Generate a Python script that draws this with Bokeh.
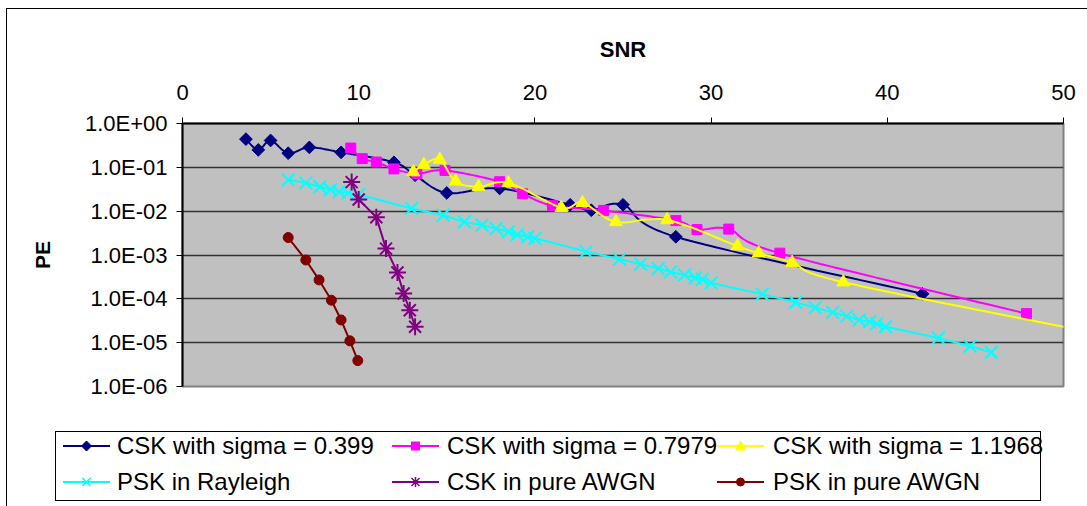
import numpy as np
from bokeh.plotting import figure
from bokeh.layouts import column
from bokeh.models import (FixedTicker, CustomJSTickFormatter, Range1d, Div)
from bokeh.embed import file_html
from bokeh.resources import INLINE

# ---- data ----
snr_s1 = [3.6, 4.3, 5.0, 6.0, 7.2, 9.0, 12.0, 13.2, 15.0, 18.0, 22.0, 23.2, 25.0, 28.0, 42.0]
pe_s1 = [0.44, 0.25, 0.41, 0.21, 0.285, 0.22, 0.13, 0.066, 0.026, 0.033, 0.014, 0.0105, 0.014, 0.0026, 1.3e-4]

snr_s2 = [9.55, 10.2, 11.0, 12.0, 13.3, 14.9, 18.0, 19.3, 21.0, 23.9, 28.0, 29.2, 31.0, 33.9, 47.9]
pe_s2 = [0.275, 0.158, 0.132, 0.092, 0.072, 0.085, 0.047, 0.025, 0.0134, 0.0104, 0.0061, 0.0038, 0.0039, 0.0011, 4.6e-5]

snr_s3 = [13.1, 13.7, 14.6, 15.5, 16.8, 18.5, 21.5, 22.7, 24.6, 27.5, 31.5, 32.7, 34.6, 37.5, 52.0]
pe_s3 = [0.078, 0.115, 0.15, 0.048, 0.036, 0.044, 0.012, 0.0155, 0.0057, 0.0063, 0.0016, 0.0011, 6.7e-4, 2.4e-4, 1.6e-5]

snr_ray = [6.0, 7.0, 7.8, 8.4, 8.9, 9.4, 10.0,
           13.0, 14.8, 16.0, 17.0, 17.8, 18.5, 19.0, 19.6, 20.0,
           22.9, 24.8, 26.0, 27.0, 27.7, 28.5, 29.1, 29.5, 30.0,
           32.9, 34.8, 35.9, 36.9, 37.7, 38.4, 39.0, 39.4, 39.9,
           42.9, 44.7, 45.9]
pe_ray = [0.052, 0.044, 0.036, 0.031, 0.028, 0.026, 0.024,
          0.0115, 0.0081, 0.0057, 0.0048, 0.0040, 0.0034, 0.0029, 0.0026, 0.0024,
          0.0012, 8.0e-4, 6.2e-4, 4.9e-4, 4.1e-4, 3.5e-4, 3.0e-4, 2.8e-4, 2.3e-4,
          1.28e-4, 8.3e-5, 6.3e-5, 4.9e-5, 4.0e-5, 3.3e-5, 3.0e-5, 2.7e-5, 2.3e-5,
          1.28e-5, 8.3e-6, 6.0e-6]

snr_csk_awgn = [9.6, 10.0, 11.0, 11.55, 12.2, 12.55, 12.9, 13.2]
pe_csk_awgn = [0.046, 0.0185, 0.0073, 0.0014, 4.0e-4, 1.32e-4, 5.5e-5, 2.3e-5]

snr_psk_awgn = [6.0, 7.0, 7.75, 8.45, 9.0, 9.5, 9.95]
pe_psk_awgn = [0.0025, 7.7e-4, 2.7e-4, 9.3e-5, 3.3e-5, 1.1e-5, 3.9e-6]

x_ticks = [0, 10, 20, 30, 40, 50]
y_ticks = [1e-6, 1e-5, 1e-4, 1e-3, 1e-2, 1e-1, 1e0]

labels = ["CSK with sigma = 0.399", "CSK with sigma = 0.7979", "CSK with sigma = 1.1968",
          "PSK in Rayleigh", "CSK in pure AWGN", "PSK in pure AWGN"]

FONT = "Liberation Sans"

# series styles: (color, marker, size, angle, filled)
styles = [
    ("#000080", "square", 9, np.pi / 4, True),
    ("#FF00FF", "square", 10, 0.0, True),
    ("#FFFF00", "triangle", 13, 0.0, True),
    ("#00FFFF", "x", 18, 0.0, False),
    ("#800080", "asterisk", 17, 0.0, False),
    ("#800000", "circle", 10, 0.0, True),
]


def smooth(xs, ys, n=20):
    """Excel-like smoothed line (cubic Bezier, Catmull-Rom control points) in (x, log y)."""
    x = np.asarray(xs, float)
    y = np.log10(np.asarray(ys, float))
    P = np.column_stack([x, y])
    Pp = np.vstack([P[0], P, P[-1]])
    out = []
    t = np.linspace(0, 1, n, endpoint=False)[:, None]
    for i in range(len(P) - 1):
        p0, p1, p2, p3 = Pp[i], Pp[i + 1], Pp[i + 2], Pp[i + 3]
        c1 = p1 + (p2 - p0) / 6.0
        c2 = p2 - (p3 - p1) / 6.0
        b = ((1 - t) ** 3) * p1 + 3 * ((1 - t) ** 2) * t * c1 + 3 * (1 - t) * t ** 2 * c2 + t ** 3 * p2
        out.append(b)
    out.append(P[-1][None, :])
    out = np.vstack(out)
    return out[:, 0], 10 ** out[:, 1]


def add_series(fig, xs, ys, style, smooth_line):
    color, marker, size, angle, filled = style
    if smooth_line:
        lx, ly = smooth(xs, ys)
    else:
        lx, ly = xs, ys
    fig.line(lx, ly, line_color=color, line_width=2)
    kw = dict(marker=marker, size=size, angle=angle, line_color=color, line_width=2 if not filled else 1)
    if filled:
        kw["fill_color"] = color
    fig.scatter(xs, ys, **kw)


p = figure(width=1080, height=422,
           x_range=Range1d(0, 50), y_range=Range1d(1e-6, 1.0),
           y_axis_type="log", x_axis_location="above",
           output_backend="svg", toolbar_location=None,
           min_border_left=175, min_border_right=24, min_border_top=114, min_border_bottom=45,
           background_fill_color="#C0C0C0", border_fill_color="white",
           outline_line_color="#808080", outline_line_width=2)

# axes
xa = p.xaxis[0]
xa.ticker = FixedTicker(ticks=x_ticks)
xa.major_tick_out = 6
xa.major_tick_in = 0
xa.minor_tick_out = 0
xa.minor_tick_in = 0
xa.axis_line_color = "black"
xa.axis_line_width = 2
xa.major_tick_line_color = "black"
xa.major_label_text_font = FONT
xa.major_label_text_font_size = "22px"
xa.major_label_text_color = "black"
xa.major_label_standoff = 18
xa.axis_label = "SNR"
xa.axis_label_text_font = FONT
xa.axis_label_text_font_style = "bold"
xa.axis_label_text_font_size = "22px"
xa.axis_label_text_color = "black"
xa.axis_label_standoff = 20

ya = p.yaxis[0]
ya.ticker = FixedTicker(ticks=y_ticks)
ya.formatter = CustomJSTickFormatter(code="""
const e = Math.round(Math.log10(tick));
const s = e < 0 ? '-' : '+';
const a = Math.abs(e);
return '1.0E' + s + (a < 10 ? '0' + a : '' + a);
""")
ya.major_tick_out = 6
ya.major_tick_in = 0
ya.minor_tick_out = 0
ya.minor_tick_in = 0
ya.axis_line_color = "black"
ya.axis_line_width = 2
ya.major_tick_line_color = "black"
ya.major_label_text_font = FONT
ya.major_label_text_font_size = "22px"
ya.major_label_text_color = "black"
ya.major_label_standoff = 9
ya.axis_label = "PE"
ya.axis_label_text_font = FONT
ya.axis_label_text_font_style = "bold"
ya.axis_label_text_font_size = "21px"
ya.axis_label_text_color = "black"
ya.axis_label_standoff = 28

p.xgrid.visible = False
p.ygrid.ticker = FixedTicker(ticks=[1e-5, 1e-4, 1e-3, 1e-2, 1e-1])
p.ygrid.grid_line_color = "#333333"
p.ygrid.grid_line_width = 1.5

series = [
    (snr_s1, pe_s1, True),
    (snr_s2, pe_s2, True),
    (snr_s3, pe_s3, True),
    (snr_ray, pe_ray, False),
    (snr_csk_awgn, pe_csk_awgn, False),
    (snr_psk_awgn, pe_psk_awgn, False),
]
for (xs, ys, sm), st in zip(series, styles):
    add_series(p, xs, ys, st, sm)


# ---- legend strip below the plot (HTML/SVG, so it is not clipped to the plot area) ----
def legend_marker_svg(marker, color, cx, cy):
    if marker == "square" and color == "#000080":  # diamond
        return (f'<polygon points="{cx},{cy-5} {cx+5},{cy} {cx},{cy+5} {cx-5},{cy}" '
                f'fill="{color}" stroke="{color}"/>')
    if marker == "square":
        return f'<rect x="{cx-4}" y="{cy-4}" width="8" height="8" fill="{color}" stroke="{color}"/>'
    if marker == "triangle":
        return (f'<polygon points="{cx},{cy-5} {cx+5},{cy+4} {cx-5},{cy+4}" '
                f'fill="{color}" stroke="{color}"/>')
    if marker == "x":
        return (f'<path d="M{cx-4},{cy-4}L{cx+4},{cy+4}M{cx-4},{cy+4}L{cx+4},{cy-4}" '
                f'stroke="{color}" stroke-width="1.5"/>')
    if marker == "asterisk":
        return (f'<path d="M{cx},{cy-5}L{cx},{cy+5}M{cx-4},{cy-4}L{cx+4},{cy+4}'
                f'M{cx-4},{cy+4}L{cx+4},{cy-4}" stroke="{color}" stroke-width="1.5"/>')
    return f'<circle cx="{cx}" cy="{cy}" r="4" fill="{color}" stroke="{color}"/>'


col_glyph_x = [56, 385, 710]
col_text_x = [110, 440, 766]
row_y = [15, 51]
svg_parts = []
txt_parts = []
for i, (lab, st) in enumerate(zip(labels, styles)):
    r, c = divmod(i, 3)
    gx, ty = col_glyph_x[c], row_y[r]
    color, marker = st[0], st[1]
    svg_parts.append(f'<line x1="{gx}" y1="{ty}" x2="{gx+47}" y2="{ty}" stroke="{color}" stroke-width="2"/>')
    svg_parts.append(legend_marker_svg(marker, color, gx + 23.5, ty))
    txt_parts.append(
        f'<span style="position:absolute;left:{col_text_x[c]}px;top:{ty-15}px;height:30px;'
        f'line-height:30px;white-space:nowrap;font-family:\'{FONT}\';font-size:24px;color:#000;">{lab}</span>')

html = (
    '<div style="position:relative;width:1080px;height:75px;overflow:hidden;">'
    '<div style="position:absolute;left:48px;top:0px;width:986px;height:70px;border:1px solid #000;"></div>'
    '<svg style="position:absolute;left:0px;top:0px;" width="1080" height="75">'
    + "".join(svg_parts) + '</svg>' + "".join(txt_parts) + '</div>'
)
legend_div = Div(text=html, width=1080, height=75, margin=0)

layout = column(p, legend_div, spacing=0)
layout.margin = (8, 0, 0, 6)
layout.styles = {"border-left": "1px solid #000000", "border-top": "1px solid #000000"}

open("out.html", "w").write(file_html(layout, INLINE))
